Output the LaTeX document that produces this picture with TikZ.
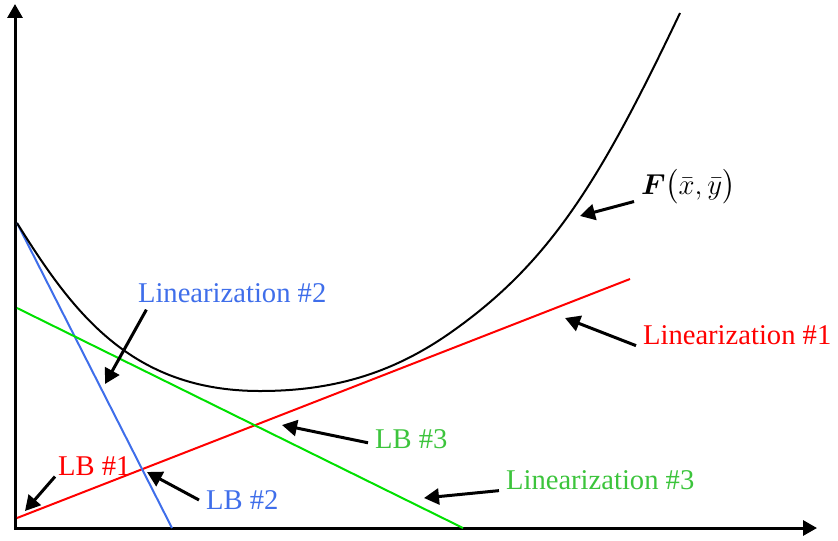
\documentclass[tikz,border=0pt]{standalone}
\usepackage{amsmath}
\usepackage{fontspec}
\setmainfont{Liberation Serif}
\usetikzlibrary{arrows.meta}
\definecolor{lnred}{HTML}{FF0000}
\definecolor{lnblue}{HTML}{3F6EEA}
\definecolor{lngreen}{HTML}{00E000}
\definecolor{lbgreen}{HTML}{3CC43C}

\tikzset{
  axisline/.style={line width=1.5pt,-{Triangle[length=7pt,width=7.5pt]}},
  pointer/.style={line width=1.5pt,-{Triangle[length=7.5pt,width=8pt]}},
  lintext/.style={anchor=west,font=\fontsize{14.3}{16}\selectfont},
}

\begin{document}
\begin{tikzpicture}[x=0.5pt,y=-0.5pt]
\path[use as bounding box] (0,0) rectangle (838,540);
% axes
\coordinate (o) at (15,528);
\coordinate (ytop) at (15,4);
\coordinate (xend) at (817,528);
\draw[axisline] ([yshift=-0.75pt]o) -- (ytop);
\draw[axisline] (o) -- (xend);
% linearizations
\draw[lnred,line width=1pt] (17,518) -- (630,279);
\draw[lnblue,line width=1pt] (17,223) -- (172,528);
\draw[lngreen,line width=1pt] (17,308) -- (463,528);
% objective
\draw[black,line width=1pt] (17,223) .. controls (72,311) and (130,391) .. (260,391)
  .. controls (330,391) and (390,375) .. (450,333)
  .. controls (550,263) and (600,181) .. (680,13);
% labels
\node[lintext] (fxy) at (634,187) {$\boldsymbol{F}\bigl(\bar{x},\bar{y}\bigr)$};
\node[lintext,text=lnred] (lin1) at (636,335) {Linearization \#1};
\node[lintext,text=lnblue] (lin2) at (131,293) {Linearization \#2};
\node[lintext,text=lbgreen] (lin3) at (499,480) {Linearization \#3};
\node[lintext,text=lnred] (lb1) at (51,466) {LB \#1};
\node[lintext,text=lnblue] (lb2) at (199,500) {LB \#2};
\node[lintext,text=lbgreen] (lb3) at (368,439) {LB \#3};
% pointers
\coordinate (tfxy) at (580,216);
\coordinate (tlin1) at (565,318);
\coordinate (tlin2) at (105,384);
\coordinate (tlin3) at (424,498);
\coordinate (tlb1) at (25,511);
\coordinate (tlb2) at (147,472);
\coordinate (tlb3) at (282,425);
\draw[pointer] (fxy.195) -- (tfxy);
\draw[pointer] (lin1.186) -- (tlin1);
\draw[pointer] (lin2.191) -- (tlin2);
\draw[pointer] (lin3.186) -- (tlin3);
\draw[pointer] ([xshift=2pt,yshift=3pt]lb1.south west) -- (tlb1);
\draw[pointer] (lb2.west) -- (tlb2);
\draw[pointer] (lb3.185) -- (tlb3);
\end{tikzpicture}
\end{document}
